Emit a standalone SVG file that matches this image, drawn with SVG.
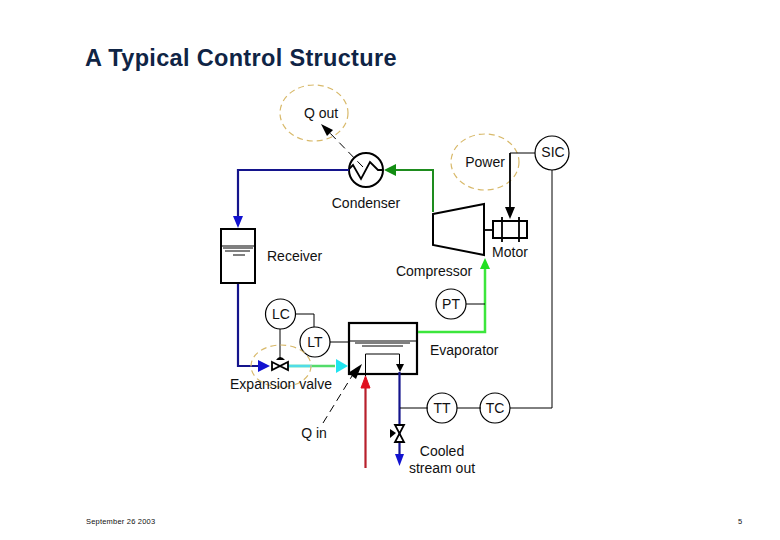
<svg xmlns="http://www.w3.org/2000/svg" width="780" height="540" viewBox="0 0 780 540">
<style>
text{font-family:"Liberation Sans",Arial,sans-serif;font-size:14px;fill:#111}
.m{text-anchor:middle}
.inst{fill:#fff;stroke:#000;stroke-width:1.2}
.eq{fill:#fff;stroke:#000;stroke-width:2}
.box{fill:none;stroke:#000;stroke-width:2.2}
.thin{fill:none;stroke:#000;stroke-width:1}
.sig{fill:none;stroke:#000;stroke-width:1.8}
.blue{fill:none;stroke:#14148c;stroke-width:2.2}
.green{fill:none;stroke:#1e8c1e;stroke-width:2}
.lime{fill:none;stroke:#3ce63c;stroke-width:2.5}
.cloud{fill:none;stroke:#d8b96a;stroke-width:1.2;stroke-dasharray:6 4}
.dash{fill:none;stroke:#000;stroke-width:1;stroke-dasharray:8 5}
</style>
<rect width="780" height="540" fill="#fff"/>
<text x="85" y="66" style="font-size:23.500px;font-weight:bold;letter-spacing:.33px;fill:#0f2445">A Typical Control Structure</text>
<text x="86" y="524" style="font-size:7.500px;letter-spacing:.2px">September 26 2003</text>
<text x="738" y="524" style="font-size:7.500px">5</text>
<g id="q-out"><ellipse class="cloud" cx="314" cy="113" rx="34" ry="28"/><text class="m" x="321" y="118">Q out</text></g>
<g id="condenser"><circle class="eq" cx="366" cy="170" r="17"/><path class="sig" d="M349 169L353 165L361 179L370 162L378 170L383 170"/><text class="m" x="366" y="208">Condenser</text></g>
<g id="receiver"><rect class="eq" x="221" y="229" width="34" height="54"/><path class="thin" d="M221 246H255M223 248H253M225 251H250M233 255H245"/><text x="267" y="261">Receiver</text></g>
<g id="power"><ellipse class="cloud" cx="485" cy="162" rx="34" ry="28"/><text class="m" x="485" y="167">Power</text></g>
<g id="sic"><circle class="inst" cx="552" cy="153" r="17"/><text class="m" x="553" y="157">SIC</text></g>
<g id="compressor"><path class="eq" d="M433 214L484 204V255L433 245Z"/><text class="m" x="434" y="276">Compressor</text></g>
<g id="motor"><rect class="eq" x="493" y="221" width="34" height="17"/><path class="sig" d="M502 217V242M519 217V242"/><text class="m" x="510" y="257">Motor</text></g>
<g id="pt"><circle class="inst" cx="451" cy="304" r="15"/><text class="m" x="451" y="309">PT</text></g>
<g id="lc"><circle class="inst" cx="280.500" cy="314" r="15"/><text class="m" x="281" y="319">LC</text></g>
<g id="lt"><circle class="inst" cx="315" cy="342" r="15"/><text class="m" x="315" y="347">LT</text></g>
<g id="evaporator"><rect class="box" x="349" y="323" width="68" height="51"/><path class="thin" d="M349 341H417M355 343H410M362 346H403"/><text x="430" y="355">Evaporator</text></g>
<g id="q-in"><text class="m" x="314" y="438">Q in</text></g>
<g id="tt"><circle class="inst" cx="442" cy="408" r="15"/><text class="m" x="442" y="413">TT</text></g>
<g id="tc"><circle class="inst" cx="495" cy="408" r="15"/><text class="m" x="495" y="413">TC</text></g>
<g id="cooled-stream"><text class="m" x="442" y="456">Cooled</text><text class="m" x="442" y="473">stream out</text></g>
<g id="connectors">
<path class="blue" d="M349 170H238V218"/>
<path d="M233 216H243L238 228Z" fill="#1212d0"/>
<path class="green" d="M433 212V170H392"/>
<path d="M396 164V176L384 170Z" fill="#118c11"/>
<path class="dash" d="M363 167L327 130"/>
<path d="M321 124L333 130L327 136Z" fill="#000"/>
<path class="thin" d="M535 153H510"/>
<path class="sig" d="M510 153V212"/>
<path d="M505 207H515L510 219Z" fill="#000"/>
<path class="sig" d="M484 230H493"/>
<path class="thin" d="M552 170V408H510"/>
<path class="lime" d="M485 265V332H418"/>
<path d="M480 269L485 258L490 269Z" fill="#22e022"/>
<path class="thin" d="M466 304H485"/>
<path class="blue" d="M238 284V366H262"/>
<path d="M258 360V372L270 366Z" fill="#1212d0"/>
<path class="thin" d="M295 314H314V327"/>
<path class="thin" d="M280 329V358"/>
<path class="thin" d="M330 342H349"/>
<path d="M288 366H335" fill="none" stroke="#52dc6a" stroke-width="2.500"/>
<path d="M288 366H312" fill="none" stroke="#50dce8" stroke-width="2.500"/>
<path d="M336 359V373L348 366Z" fill="#20e4f0"/>
<path class="dash" d="M323 423L352 376"/>
<path d="M362 364L356 379L348 373Z" fill="#000"/>
<path d="M365.500 468V384" fill="none" stroke="#b8202c" stroke-width="2.200"/>
<path d="M361 388L365.500 376L370 388H361Z" fill="#e01020" stroke="#e01020"/>
<path class="thin" d="M365.500 376V354H399.500V366"/>
<path d="M396 364H404L400 372Z" fill="#000"/>
<path class="blue" d="M399.500 372V455"/>
<path d="M395 454H404L399.500 466Z" fill="#1212d0"/>
<path class="thin" d="M400 408H428"/>
<path class="thin" d="M457 408H481"/>
</g>
<g id="expansion-valve"><ellipse class="cloud" cx="281" cy="366" rx="30" ry="21"/><path d="M272 362L288 370V362L272 370Z" fill="#fff" stroke="#000" stroke-width="1.800"/><path d="M276 360Q280 354 285 360Z" fill="#000"/><text class="m" x="281" y="389">Expansion valve</text></g>
<g id="outlet-valve"><path d="M395 425H404L395 442H404Z" fill="#fff" stroke="#000" stroke-width="1.800"/><path d="M396 433L390 429V438Z" fill="#000"/></g>
</svg>
